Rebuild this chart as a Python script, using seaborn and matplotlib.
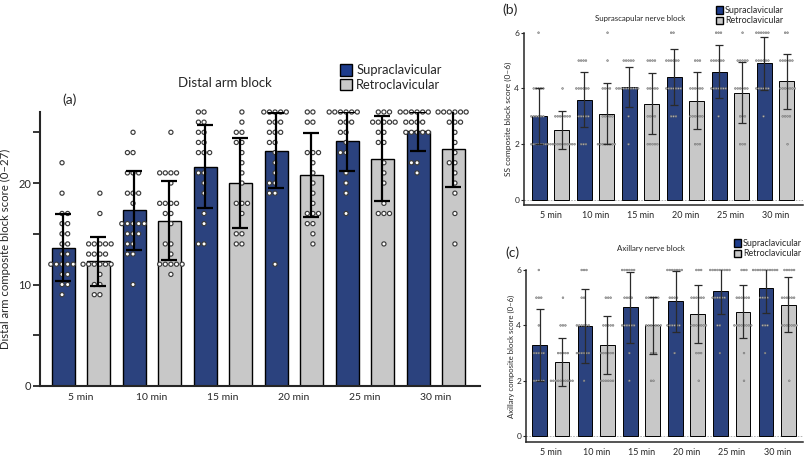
import warnings
import numpy as np
import pandas as pd
import matplotlib
matplotlib.use("Agg")
import matplotlib.pyplot as plt
from matplotlib.patches import Patch
import seaborn as sns

warnings.filterwarnings("ignore")

times = ["5 min", "10 min", "15 min", "20 min", "25 min", "30 min"]
groups = ["Supraclavicular", "Retroclavicular"]

# (a) distal arm block score (0-27): mean, SD and individual scores {score: n}
distal_sup_mean = [13.6, 17.3, 21.6, 23.2, 24.1, 25.1]
distal_sup_sd = [3.3, 3.9, 4.1, 3.7, 2.9, 1.9]
distal_ret_mean = [12.3, 16.3, 20.0, 20.8, 22.4, 23.4]
distal_ret_sd = [2.4, 3.9, 4.4, 4.1, 4.2, 3.8]
distal_sup_pts = [
    {22: 1, 19: 1, 17: 2, 16: 2, 15: 2, 14: 2, 13: 2, 12: 5, 11: 2, 10: 2, 9: 1},
    {25: 1, 23: 2, 21: 3, 19: 3, 18: 1, 16: 5, 15: 3, 14: 2, 13: 2, 10: 1},
    {27: 2, 26: 2, 25: 2, 24: 2, 23: 3, 21: 2, 20: 1, 19: 1, 17: 1, 16: 1, 14: 2},
    {27: 5, 26: 3, 25: 3, 24: 2, 23: 1, 22: 1, 21: 1, 20: 2, 19: 2, 12: 1},
    {27: 6, 26: 3, 25: 2, 24: 1, 23: 2, 21: 1, 20: 1, 19: 1, 17: 1},
    {27: 6, 26: 4, 25: 5, 22: 2, 21: 1},
]
distal_ret_pts = [
    {19: 1, 17: 1, 14: 5, 13: 4, 12: 6, 11: 1, 10: 2, 9: 2},
    {25: 1, 21: 4, 20: 1, 18: 4, 17: 2, 16: 1, 14: 2, 13: 1, 12: 5, 11: 1},
    {27: 1, 26: 1, 25: 2, 24: 2, 23: 1, 22: 1, 21: 1, 20: 1, 18: 3, 17: 1, 15: 2, 14: 2},
    {27: 2, 26: 2, 23: 3, 22: 1, 21: 1, 20: 1, 19: 1, 18: 1, 17: 3, 16: 2, 15: 1, 14: 1},
    {27: 3, 26: 5, 25: 2, 24: 2, 22: 1, 21: 1, 20: 1, 18: 1, 17: 3, 14: 1},
    {27: 6, 26: 3, 25: 1, 24: 1, 23: 1, 22: 2, 21: 1, 20: 1, 19: 1, 17: 1, 14: 1},
]

# (b) suprascapular nerve block score (0-6)
ss_sup_mean = [3.0, 3.6, 4.05, 4.4, 4.6, 4.9]
ss_sup_sd = [1.0, 1.0, 0.73, 1.0, 0.95, 0.95]
ss_ret_mean = [2.5, 3.1, 3.45, 3.56, 3.85, 4.25]
ss_ret_sd = [0.68, 1.1, 1.1, 1.03, 1.1, 1.0]
ss_sup_pts = [
    {6: 1, 4: 5, 3: 6, 2: 7}, {5: 4, 4: 6, 3: 5, 2: 3}, {5: 5, 4: 10, 3: 1, 2: 1},
    {6: 2, 5: 6, 4: 7, 3: 3}, {6: 3, 5: 6, 4: 7, 3: 1}, {6: 6, 5: 6, 4: 6, 3: 1},
]
ss_ret_pts = [
    {4: 1, 3: 7, 2: 12}, {6: 1, 5: 1, 4: 4, 3: 5, 2: 8}, {5: 4, 4: 5, 3: 4, 2: 5},
    {5: 3, 4: 6, 3: 6, 2: 3}, {6: 1, 5: 5, 4: 6, 3: 3, 2: 3}, {6: 2, 5: 6, 4: 7, 3: 4, 2: 1},
]

# (c) axillary nerve block score (0-6)
axil_sup_mean = [3.3, 3.97, 4.65, 4.87, 5.25, 5.35]
axil_sup_sd = [1.3, 1.33, 1.28, 1.1, 0.85, 0.9]
axil_ret_mean = [2.67, 3.3, 4.0, 4.4, 4.5, 4.75]
axil_ret_sd = [0.87, 1.04, 1.03, 1.05, 0.95, 1.0]
axil_sup_pts = [
    {6: 1, 5: 3, 4: 1, 3: 5, 2: 5}, {6: 3, 5: 2, 4: 6, 3: 6, 2: 1}, {6: 6, 5: 4, 4: 6, 3: 1, 2: 1},
    {6: 7, 5: 4, 4: 6, 3: 1}, {6: 9, 5: 6, 4: 2, 3: 1}, {6: 11, 5: 4, 4: 3, 3: 1},
]
axil_ret_pts = [
    {5: 1, 4: 3, 3: 5, 2: 10}, {5: 3, 4: 5, 3: 6, 2: 6}, {5: 6, 4: 7, 3: 3, 2: 2},
    {6: 3, 5: 6, 4: 7, 3: 3, 2: 1}, {6: 3, 5: 6, 4: 8, 3: 1, 2: 1}, {6: 5, 5: 6, 4: 7, 2: 1},
]

blue = "#1d3c8c"
grey = "#c8c8c8"

sns.set_style("ticks")
plt.rcParams["font.family"] = ["Lato", "DejaVu Sans"]


def points_frame(sup_pts, ret_pts):
    rows = []
    for grp, pts in zip(groups, [sup_pts, ret_pts]):
        for t, counts in zip(times, pts):
            for score, n in counts.items():
                rows += [(t, grp, score)] * n
    return pd.DataFrame(rows, columns=["time", "group", "score"])


def draw_panel(ax, sup_mean, sup_sd, ret_mean, ret_sd, sup_pts, ret_pts,
               pt_kw, err_kw, edge_lw):
    means = pd.DataFrame({
        "time": times * 2,
        "group": [groups[0]] * 6 + [groups[1]] * 6,
        "score": sup_mean + ret_mean,
    })
    sns.barplot(data=means, x="time", y="score", hue="group", order=times,
                hue_order=groups, palette=[blue, grey], width=0.986, gap=0.34,
                errorbar=None, edgecolor="black", linewidth=edge_lw,
                legend=False, ax=ax, zorder=1)
    xc = [p.get_x() + p.get_width() / 2 for p in ax.patches]

    pts = points_frame(sup_pts, ret_pts)
    # empty middle hue level just widens the dodge to line up with the bars
    sns.swarmplot(data=pts, x="time", y="score", hue="group", order=times,
                  hue_order=[groups[0], "-", groups[1]],
                  palette={groups[0]: pt_kw["fc"], "-": pt_kw["fc"], groups[1]: pt_kw["fc"]},
                  dodge=True, size=pt_kw["size"], linewidth=pt_kw["lw"],
                  edgecolor=pt_kw["ec"], legend=False, ax=ax, zorder=3)
    for coll in ax.collections:
        if len(coll.get_offsets()) > 0:
            coll.set_clip_on(False)

    ax.errorbar(xc, sup_mean + ret_mean, yerr=sup_sd + ret_sd, fmt="none",
                zorder=4, **err_kw)
    ax.set_xlabel("")
    sns.despine(ax=ax)
    ax.tick_params(axis="x", length=0)


fig = plt.figure(figsize=(8.06, 4.58), dpi=100)

# ---- (a)
ax_a = fig.add_axes([40 / 806, 1 - 386 / 458, 440 / 806, (386 - 112) / 458])
draw_panel(ax_a, distal_sup_mean, distal_sup_sd, distal_ret_mean, distal_ret_sd,
           distal_sup_pts, distal_ret_pts,
           pt_kw=dict(fc="white", ec="#3a3a3a", size=3.0, lw=0.85),
           err_kw=dict(ecolor="black", elinewidth=1.6, capsize=5.5, capthick=1.6),
           edge_lw=1.0)
ax_a.set_xlim(-0.577, 5.62)
ax_a.set_ylim(0, 27)
ax_a.set_yticks([0, 10, 20])
ax_a.set_yticks([5, 15, 25], minor=True)
ax_a.tick_params(axis="y", which="both", length=5, width=1.3, labelsize=8, pad=1.5)
ax_a.tick_params(axis="x", labelsize=7.5, pad=5)
for s in ax_a.spines.values():
    s.set_linewidth(1.5)
ax_a.set_ylabel("Distal arm composite block score (0\u201327)", fontsize=8.2)
ax_a.yaxis.set_label_coords(-0.066, 0.5)

fig.text(62 / 806, 1 - 100 / 458, "(a)", fontsize=10, va="center")
fig.text(225 / 806, 1 - 83 / 458, "Distal arm block", fontsize=9.5,
         ha="center", va="center")
handles = [Patch(facecolor=blue, edgecolor="black", linewidth=1.0),
           Patch(facecolor=grey, edgecolor="black", linewidth=1.0)]
ax_a.legend(handles, groups, loc="upper left",
            bbox_to_anchor=(340 / 806, 1 - 64 / 458), bbox_transform=fig.transFigure,
            frameon=False, fontsize=9.3, handlelength=0.95, handleheight=1.0,
            handletextpad=0.3, labelspacing=0.2, borderpad=0, borderaxespad=0)

# ---- (b) and (c)
small_err = dict(ecolor="#2a2a2a", elinewidth=0.9, capsize=3.2, capthick=0.9)
small_pts = dict(fc="#b5b5b5", ec="#6a6a6a", size=1.3, lw=0.35)

ax_b = fig.add_axes([524 / 806, 1 - 205 / 458, 279 / 806, (205 - 32.7) / 458])
draw_panel(ax_b, ss_sup_mean, ss_sup_sd, ss_ret_mean, ss_ret_sd,
           ss_sup_pts, ss_ret_pts, pt_kw=small_pts, err_kw=small_err, edge_lw=0.7)
ax_b.set_xlim(-0.59, 5.61)
ax_b.set_ylim(-0.18, 6)
ax_b.set_ylabel("SS composite block score (0\u20136)", fontsize=6)
ax_b.yaxis.set_label_coords(-0.043, 0.5)

ax_c = fig.add_axes([526 / 806, 1 - 442 / 458, 277 / 806, (442 - 270) / 458])
draw_panel(ax_c, axil_sup_mean, axil_sup_sd, axil_ret_mean, axil_ret_sd,
           axil_sup_pts, axil_ret_pts, pt_kw=small_pts, err_kw=small_err, edge_lw=0.7)
ax_c.set_xlim(-0.55, 5.57)
ax_c.set_ylim(-0.21, 6)
ax_c.set_ylabel("Axillary composite block score (0\u20136)", fontsize=5.6)
ax_c.yaxis.set_label_coords(-0.040, 0.5)

for ax in (ax_b, ax_c):
    ax.set_yticks([0, 2, 4, 6])
    ax.axhline(0, color="#aaaaaa", lw=0.6, ls=(0, (2, 1.5)), zorder=0.5)
    ax.tick_params(axis="y", length=2.5, width=0.8, labelsize=6, pad=1)
    ax.tick_params(axis="x", labelsize=6.5, pad=4)
    for s in ax.spines.values():
        s.set_linewidth(1.1)

fig.text(502 / 806, 1 - 10 / 458, "(b)", fontsize=10, va="center")
fig.text(640 / 806, 1 - 19 / 458, "Suprascapular nerve block", fontsize=5.7,
         ha="center", va="center")
ax_b.legend(handles, groups, loc="upper left",
            bbox_to_anchor=(716 / 806, 1 - 6 / 458), bbox_transform=fig.transFigure,
            frameon=False, fontsize=6.4, handlelength=0.8, handleheight=0.9,
            handletextpad=0.2, labelspacing=0.15, borderpad=0, borderaxespad=0)

fig.text(505 / 806, 1 - 253 / 458, "(c)", fontsize=10, va="center")
fig.text(651 / 806, 1 - 249 / 458, "Axillary nerve block", fontsize=5.7,
         ha="center", va="center")
ax_c.legend(handles, groups, loc="upper left",
            bbox_to_anchor=(734 / 806, 1 - 239 / 458), bbox_transform=fig.transFigure,
            frameon=False, fontsize=6.4, handlelength=0.8, handleheight=0.9,
            handletextpad=0.2, labelspacing=0.15, borderpad=0, borderaxespad=0)

fig.savefig("out.png", dpi=100)
